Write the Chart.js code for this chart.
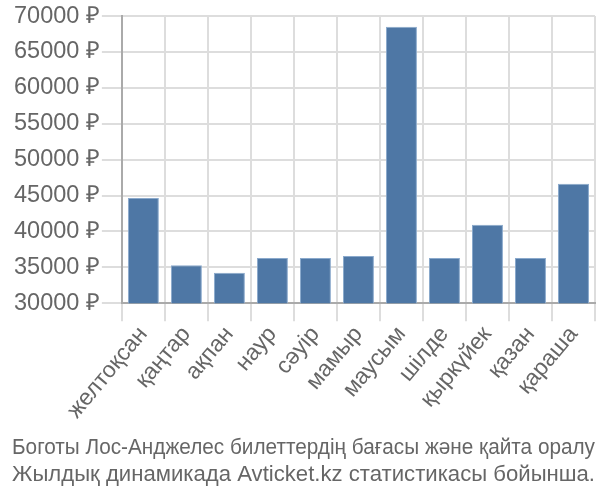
<!DOCTYPE html>
<html>
<head>
<meta charset="utf-8">
<script src="https://cdn.jsdelivr.net/npm/chart.js@4"></script>
<style>
  html, body { margin: 0; padding: 0; background: #fff; }
  #wrap { width: 600px; height: 500px; }
</style>
</head>
<body>
<div id="wrap"><canvas id="c" width="600" height="500"></canvas></div>
<script>
const months = ['желтоқсан', 'қаңтар', 'ақпан', 'наур', 'сәуір', 'мамыр', 'маусым', 'шілде', 'қыркүйек', 'қазан', 'қараша'];
const prices = [44650, 35300, 34250, 36300, 36300, 36600, 68500, 36300, 40950, 36300, 46650];
const titleLines = ['Боготы Лос-Анджелес билеттердің бағасы және қайта оралу', 'Жылдық динамикада Avticket.kz статистикасы бойынша.'];

Chart.defaults.font.family = '"Liberation Sans", Arial, sans-serif';
Chart.defaults.color = '#666';

new Chart(document.getElementById('c').getContext('2d'), {
  type: 'bar',
  data: {
    labels: months,
    datasets: [{
      data: prices,
      backgroundColor: '#4e77a5',
      borderColor: '#8aa9cc',
      borderWidth: 1
    }]
  },
  options: {
    responsive: false,
    animation: false,
    layout: { padding: { right: 5, top: 2, left: 12 } },
    plugins: {
      legend: { display: false },
      tooltip: { enabled: false },
      title: {
        display: true,
        position: 'bottom',
        text: titleLines,
        font: { size: 22.5, weight: 'normal' },
        color: '#666',
        padding: { top: 10, bottom: 12 }
      }
    },
    scales: {
      x: {
        grid: { color: '#ddd', lineWidth: 2, tickLength: 18 },
        border: { color: '#aaa', width: 2 },
        ticks: { font: { size: 23 }, minRotation: 50, maxRotation: 50, color: '#666', padding: 0 }
      },
      y: {
        min: 30000,
        max: 70000,
        grid: { color: '#ddd', lineWidth: 2, tickLength: 20 },
        border: { color: '#aaa', width: 2 },
        ticks: {
          stepSize: 5000,
          font: { size: 23.5 },
          color: '#666',
          padding: 2,
          callback: v => v + ' ₽'
        }
      }
    }
  }
});
</script>
</body>
</html>
